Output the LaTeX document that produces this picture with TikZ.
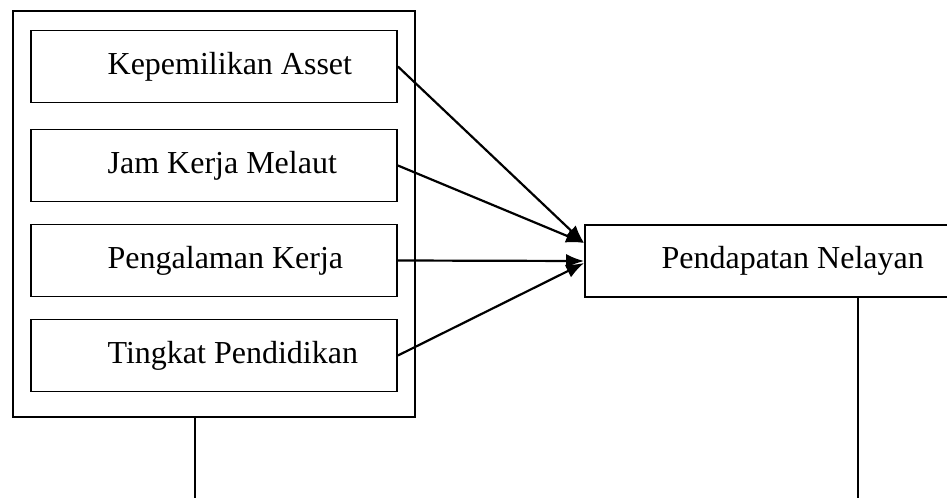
\documentclass[tikz,border=0pt]{standalone}
\usepackage{fontspec}
\setmainfont{Liberation Serif}
\usetikzlibrary{arrows.meta}

\begin{document}
\begin{tikzpicture}[x=0.5pt, y=-0.5pt, font=\fontsize{16}{19}\selectfont, line width=0.9pt,
    varbox/.style={draw, minimum height=36pt, label={[anchor=west, xshift=35pt]west:#1}},
    infl/.style={-{Latex[length=9pt, width=7pt]}, line width=1.1pt}]
  \useasboundingbox (0,0) rectangle (947,498);
  \begin{scope}
    \clip (0,0) rectangle (947,498);
    % independent variables
    \node[draw, minimum width=201pt, minimum height=203pt] (group) at (214,214) {};
    \node[varbox=Kepemilikan Asset, minimum width=183pt] (asset) at (214,66.5) {};
    \node[varbox=Jam Kerja Melaut, minimum width=183pt] (jam) at (214,165.5) {};
    \node[varbox=Pengalaman Kerja, minimum width=183pt] (exp) at (214,260.5) {};
    \node[varbox=Tingkat Pendidikan, minimum width=183pt] (edu) at (214,355.5) {};
    % dependent variable
    \node[varbox=Pendapatan Nelayan, minimum width=190pt] (inc) at (775,261) {};
    \draw[infl] (asset.east) -- ([yshift=9pt]inc.west);
    \draw[infl] (jam.east) -- ([yshift=9pt]inc.west);
    \draw[infl] (exp.east) -- (inc.west);
    \draw[infl] (edu.east) -- ([yshift=-1pt]inc.west);
    % lines down
    \coordinate (gl) at (195,498);
    \coordinate (gr) at (858,498);
    \draw (group.south -| gl) -- (gl);
    \draw (inc.south -| gr) -- (gr);
  \end{scope}
\end{tikzpicture}
\end{document}
